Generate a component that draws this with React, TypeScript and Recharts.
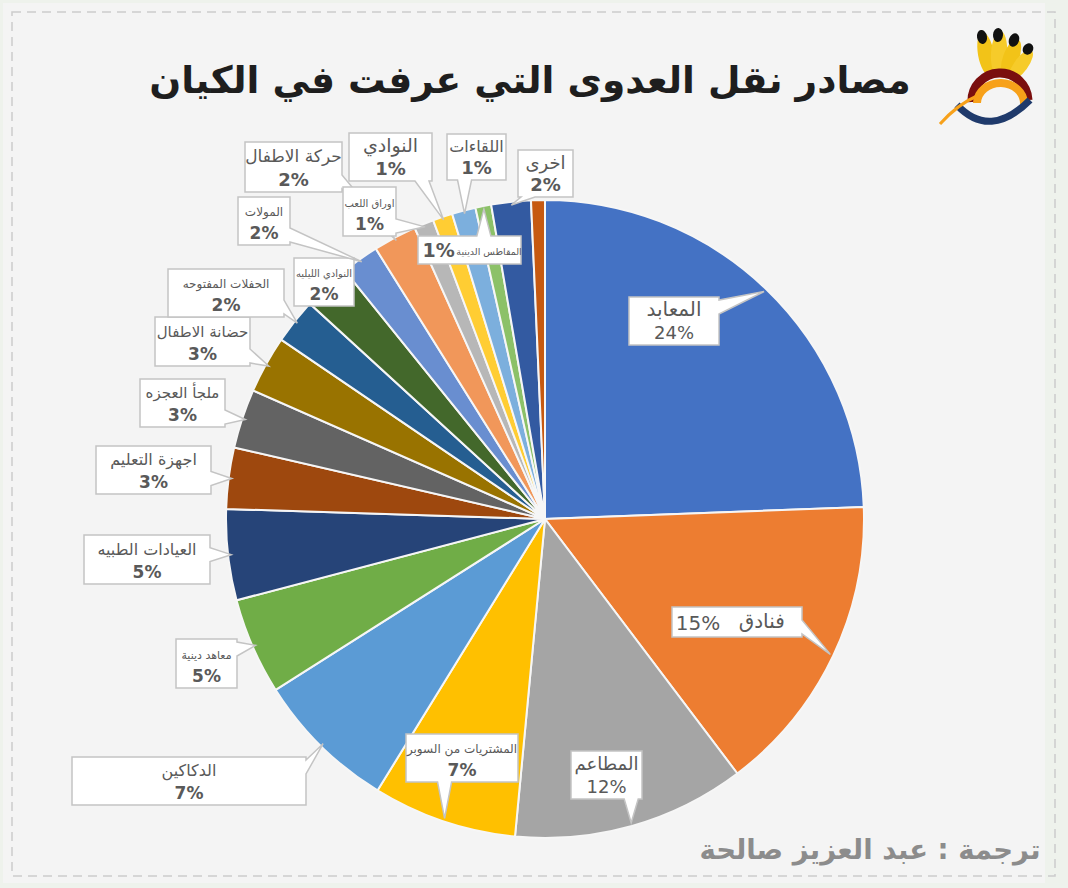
import React from 'react';
import { PieChart, Pie, Cell } from 'recharts';

// slices clockwise from 12 o'clock
const categories = [
  'المعابد',
  'فنادق',
  'المطاعم',
  'المشتريات من السوبر',
  'الدكاكين',
  'معاهد دينية',
  'العيادات الطبيه',
  'اجهزة التعليم',
  'ملجأ العجزه',
  'حضانة الاطفال',
  'الحفلات المفتوحه',
  'النوادي الليليه',
  'المولات',
  'حركة الاطفال',
  'اوراق اللعب',
  'النوادي',
  'اللقاءات',
  'المقاطس الدينية',
  'اخرى',
  '',
];

const shares = [24.4, 15.3, 11.8, 7.3, 7.2, 4.9, 4.6, 3.1, 3.0, 2.9, 2.3, 2.4, 1.9, 2.2, 1.0, 1.0, 1.2, 0.8, 2.0, 0.7];

const sliceColors = [
  '#4472C4', '#ED7D31', '#A5A5A5', '#FFC000', '#5B9BD5', '#70AD47',
  '#264478', '#9E480E', '#636363', '#997300', '#255E91', '#43682B',
  '#698ED0', '#F1975A', '#B7B7B7', '#FFCD33', '#7CAFDD', '#8CC168',
  '#335AA1', '#C65911',
];

const title = 'مصادر نقل العدوى التي عرفت في الكيان';
const credit = 'ترجمة : عبد العزيز صالحة';

const data = categories.map((name, i) => ({ name, value: shares[i] }));

// callout box: offset from pie centre, size, name font, pct font, mode, bold pct
type Lay = [number, number, number, number, number, number, string, boolean];
const calloutLayout: Lay[] = [
  [84, -222, 90, 48, 20, 18, 'stack', false],
  [127, 88, 130, 30, 20, 20, 'inline', false],
  [26, 232, 71, 48, 18, 18, 'stack', false],
  [-139, 215, 112, 48, 12, 17, 'stack', true],
  [-473, 238, 234, 48, 16, 17, 'stack', true],
  [-369, 120, 61, 49, 11, 17, 'stack', true],
  [-461, 16, 126, 49, 16, 17, 'stack', true],
  [-449, -73, 115, 48, 16, 17, 'stack', true],
  [-405, -140, 85, 48, 15, 17, 'stack', true],
  [-390, -202, 95, 49, 15, 17, 'stack', true],
  [-377, -250, 116, 48, 12, 17, 'stack', true],
  [-251, -261, 60, 48, 10, 17, 'stack', true],
  [-307, -322, 52, 48, 12, 17, 'stack', true],
  [-300, -377, 97, 50, 17, 18, 'stack', true],
  [-202, -332, 53, 49, 10, 17, 'stack', true],
  [-196, -386, 83, 48, 19, 18, 'stack', true],
  [-98, -385, 59, 46, 16, 18, 'stack', true],
  [-127, -283, 103, 28, 9.5, 19, 'inline', true],
  [-27, -369, 55, 47, 18, 18, 'stack', true],
];

const font = '"DejaVu Sans", sans-serif';
const textColor = '#595959';

const calloutPath = (x0: number, y0: number, x1: number, y1: number, tx: number, ty: number) => {
  const ex: Record<string, number> = { left: x0 - tx, right: tx - x1, top: y0 - ty, bottom: ty - y1 };
  let side = '';
  let best = 2;
  Object.keys(ex).forEach((k) => {
    if (ex[k] > best) {
      best = ex[k];
      side = k;
    }
  });
  const b = 7;
  const clamp = (v: number, a: number, c: number) => Math.max(a, Math.min(c, v));
  let d = `M${x0},${y0}`;
  if (side === 'top') {
    const c = clamp(tx, x0 + b + 3, x1 - b - 3);
    d += ` L${c - b},${y0} L${tx},${ty} L${c + b},${y0}`;
  }
  d += ` L${x1},${y0}`;
  if (side === 'right') {
    const c = clamp(ty, y0 + b + 3, y1 - b - 3);
    d += ` L${x1},${c - b} L${tx},${ty} L${x1},${c + b}`;
  }
  d += ` L${x1},${y1}`;
  if (side === 'bottom') {
    const c = clamp(tx, x0 + b + 3, x1 - b - 3);
    d += ` L${c + b},${y1} L${tx},${ty} L${c - b},${y1}`;
  }
  d += ` L${x0},${y1}`;
  if (side === 'left') {
    const c = clamp(ty, y0 + b + 3, y1 - b - 3);
    d += ` L${x0},${c + b} L${tx},${ty} L${x0},${c - b}`;
  }
  return d + ' Z';
};

const renderCallout = (props: any) => {
  const { cx, cy, midAngle, outerRadius, index, percent, name } = props;
  const lay = calloutLayout[index];
  if (!lay || !name) return null;
  const [dx, dy, w, h, ns, ps, mode, boldPct] = lay;
  const x0 = cx + dx;
  const y0 = cy + dy;
  const x1 = x0 + w;
  const y1 = y0 + h;
  const rad = Math.PI / 180;
  const tx = cx + outerRadius * 0.99 * Math.cos(-midAngle * rad);
  const ty = cy + outerRadius * 0.99 * Math.sin(-midAngle * rad);
  const pct = `${Math.round(percent * 100)}%`;
  return (
    <g key={`co-${index}`}>
      <path d={calloutPath(x0, y0, x1, y1, tx, ty)} fill="#ffffff" stroke="#c4c4c4" strokeWidth={1.5} />
      {mode === 'stack' ? (
        <>
          <text x={x0 + w / 2} y={y0 + h * 0.4} textAnchor="middle" fontFamily={font} fontSize={ns} fill={textColor}>
            {name}
          </text>
          <text x={x0 + w / 2} y={y1 - 6} textAnchor="middle" fontFamily={font} fontSize={ps} fontWeight={boldPct ? 'bold' : 'normal'} fill={textColor}>
            {pct}
          </text>
        </>
      ) : (
        <>
          <text x={x0 + w * 0.2} y={y1 - 7} textAnchor="middle" fontFamily={font} fontSize={ps} fontWeight={boldPct ? 'bold' : 'normal'} fill={textColor}>
            {pct}
          </text>
          <text x={x0 + w * 0.69} y={y1 - 9} textAnchor="middle" fontFamily={font} fontSize={ns} fill={textColor}>
            {name}
          </text>
        </>
      )}
    </g>
  );
};

const Logo = () => (
  <g>
    <ellipse cx={986} cy={54} rx={8} ry={22} transform="rotate(-10 986 54)" fill="#F2C318" />
    <ellipse cx={999} cy={53} rx={8} ry={22} transform="rotate(4 999 53)" fill="#F6CB2A" />
    <ellipse cx={1011} cy={58} rx={8} ry={20} transform="rotate(20 1011 58)" fill="#F2C318" />
    <ellipse cx={1021} cy={65} rx={7} ry={18} transform="rotate(36 1021 65)" fill="#F6CB2A" />
    <ellipse cx={982} cy={37} rx={5} ry={7} transform="rotate(-10 982 37)" fill="#111" />
    <ellipse cx={998} cy={35} rx={5} ry={7} transform="rotate(4 998 35)" fill="#111" />
    <ellipse cx={1014} cy={40} rx={5} ry={7} transform="rotate(20 1014 40)" fill="#111" />
    <ellipse cx={1028} cy={49} rx={5} ry={6} transform="rotate(36 1028 49)" fill="#111" />
    <path d="M972,102 A28,28 0 1 1 1028,100" stroke="#7A0E0E" strokeWidth={9} fill="none" />
    <path d="M977,103 A23,20 0 1 1 1024,104" stroke="#F7A11A" strokeWidth={8} fill="none" />
    <path d="M957,105 Q990,140 1030,100" stroke="#1F3A6B" strokeWidth={7} fill="none" />
    <path d="M940,124 Q958,104 977,96" stroke="#F7A11A" strokeWidth={3} fill="none" />
  </g>
);

const App = () => {
  return (
    <div style={{ position: 'absolute', left: 0, top: 0, width: 1068, height: 888 }}>
      <svg width={1068} height={888} style={{ position: 'absolute', left: 0, top: 0 }}>
        <rect x={0} y={0} width={1068} height={888} fill="#eef2ec" />
        <rect x={3} y={3} width={1042} height={880} fill="#f4f4f4" />
        <rect x={12} y={12} width={1043} height={864} fill="none" stroke="#cccccc" strokeWidth={1.5} strokeDasharray="9 6" />
        <text x={530} y={93} textAnchor="middle" fontFamily={font} fontWeight="bold" fontSize={37.5} fill="#1e1e1e">
          {title}
        </text>
        <text x={870} y={859} textAnchor="middle" fontFamily={font} fontWeight="bold" fontSize={27.5} fill="#8c8c8c">
          {credit}
        </text>
        <Logo />
      </svg>
      <div style={{ position: 'absolute', left: 0, top: 0 }}>
        <PieChart width={1068} height={888} margin={{ top: 0, right: 0, bottom: 0, left: 0 }}>
          <Pie
            data={data}
            dataKey="value"
            nameKey="name"
            cx={545}
            cy={519}
            outerRadius={319}
            startAngle={90}
            endAngle={-270}
            stroke="#f6f6f6"
            strokeWidth={2}
            label={renderCallout}
            labelLine={false}
            isAnimationActive={false}
          >
            {data.map((d, i) => (
              <Cell key={d.name + i} fill={sliceColors[i]} />
            ))}
          </Pie>
        </PieChart>
      </div>
    </div>
  );
};

export default App;
